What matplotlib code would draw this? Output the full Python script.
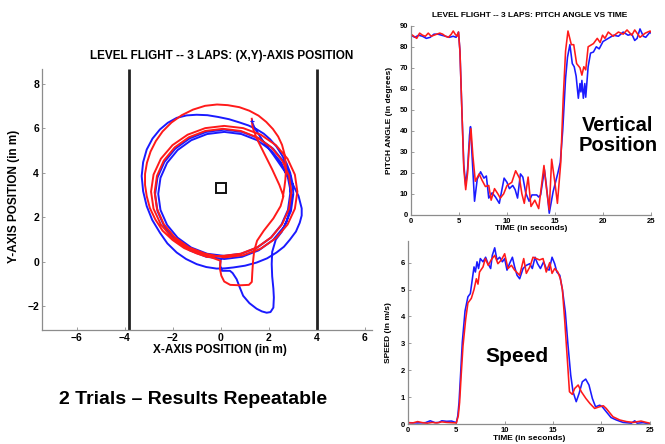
import matplotlib
matplotlib.use("Agg")
import matplotlib.pyplot as plt

plt.rcParams['font.family'] = ['Liberation Sans', 'DejaVu Sans']
plt.rcParams['font.weight'] = 'bold'

RED = '#ff1a1a'
BLUE = '#1a1aff'

# ---------------- trajectory data (X, Y in m) ----------------
red_x = [1.30, 1.33, 1.50, 1.80, 2.15, 2.45, 2.62, 2.50, 2.20, 1.80, 1.52, 1.40, 1.35, 1.32, 1.30,
         1.18, 0.80, 0.40, 0.15, 0.03, -0.03, 0.00,
         -0.64, -1.375, -2.006, -2.491, -2.796, -2.90, -2.796, -2.491, -2.006, -1.375, -0.64, 0.15,
         0.94, 1.675, 2.306, 2.791, 3.096, 3.20, 3.096, 2.791, 2.306, 1.675, 0.94, 0.15,
         -0.638, -1.325, -1.915, -2.368, -2.653, -2.75, -2.653, -2.368, -1.915, -1.325, -0.638, 0.10,
         0.838, 1.525, 2.115, 2.568, 2.853, 2.95, 2.853, 2.568, 2.115, 1.525, 0.838, 0.10,
         -0.55, -1.00, -1.52, -2.00, -2.42, -2.72, -2.95, -3.08, -3.15, -3.15, -3.07, -2.92, -2.70,
         -2.42, -2.05, -1.62, -1.15, -0.65, -0.15, 0.30, 0.78, 1.20, 1.58, 1.90, 2.18, 2.40, 2.56,
         2.66, 2.71, 2.72, 2.70, 2.66, 2.60]
red_y = [6.42, 6.05, 5.55, 4.90, 4.15, 3.45, 2.95, 2.50, 1.95, 1.40, 0.95, 0.50, 0.00, -0.50, -0.90,
         -1.03, -1.05, -1.03, -0.88, -0.62, -0.30, 0.05,
         0.30, 0.595, 1.064, 1.675, 2.386, 3.15, 3.914, 4.625, 5.236, 5.705, 6.00, 6.10,
         6.00, 5.705, 5.236, 4.625, 3.914, 3.15, 2.386, 1.675, 1.064, 0.595, 0.30, 0.20,
         0.367, 0.652, 1.105, 1.695, 2.382, 3.12, 3.858, 4.545, 5.135, 5.588, 5.873, 5.97,
         5.873, 5.588, 5.135, 4.545, 3.858, 3.12, 2.382, 1.695, 1.105, 0.652, 0.367, 0.27,
         0.22, 0.38, 0.62, 0.98, 1.40, 1.90, 2.42, 2.95, 3.45, 3.95, 4.45, 4.95, 5.42,
         5.85, 6.25, 6.58, 6.83, 7.00, 7.06, 7.03, 6.94, 6.78, 6.56, 6.28, 5.96, 5.62, 5.25,
         4.85, 4.45, 4.05, 3.70, 3.35, 2.95]

blue_x = [1.30, 1.42, 1.75, 2.20, 2.65, 3.00, 3.25, 3.38, 3.38, 3.30, 3.14, 2.89, 2.64, 2.33, 1.94,
          1.50, 1.02, 0.53, 0.18, -0.17, -0.60, -1.00, -1.44, -1.83, -2.22, -2.53, -2.85, -3.08, -3.23,
          -3.29, -3.23, -3.08, -2.84, -2.53, -2.20, -1.83, -1.42, -1.00, -0.55, -0.10, 0.35, 0.80, 1.16,
          1.50, 1.80, 2.06, 2.33, 2.55, 2.75, 2.90, 3.00, 3.03,
          2.932, 2.644, 2.186, 1.59, 0.896, 0.15, -0.596, -1.29, -1.886, -2.344, -2.632, -2.73,
          -2.632, -2.344, -1.886, -1.29, -0.596, 0.15, 0.896, 1.59, 2.186, 2.644, 2.932,
          2.90, 2.807, 2.532, 2.094, 1.525, 0.862, 0.15, -0.562, -1.225, -1.794, -2.232, -2.507, -2.60,
          -2.507, -2.232, -1.794, -1.225, -0.562, 0.15, 0.862, 1.525, 2.094, 2.532, 2.807,
          2.95, 2.90, 2.75, 2.55, 2.30,
          2.15, 2.13, 2.15, 2.20, 2.22, 2.20, 2.08, 1.92, 1.72, 1.50, 1.20, 0.94, 0.80, 0.67, 0.50, 0.39,
          0.05, -0.02, 0.00]
blue_y = [6.30, 6.00, 5.45, 4.80, 4.10, 3.50, 2.95, 2.40, 2.08, 1.76, 1.36, 1.00, 0.68, 0.42, 0.16,
          -0.03, -0.17, -0.25, -0.29, -0.30, -0.23, -0.10, 0.13, 0.42, 0.83, 1.31, 1.88, 2.50, 3.17,
          3.85, 4.47, 5.04, 5.53, 5.94, 6.24, 6.46, 6.57, 6.60, 6.58, 6.50, 6.40, 6.25, 6.12,
          5.95, 5.75, 5.50, 5.17, 4.80, 4.42, 4.00, 3.52, 3.03,
          2.279, 1.58, 0.98, 0.519, 0.229, 0.13, 0.229, 0.519, 0.98, 1.58, 2.279, 3.03,
          3.781, 4.48, 5.08, 5.541, 5.831, 5.93, 5.831, 5.541, 5.08, 4.48, 3.781,
          3.05, 2.33, 1.66, 1.085, 0.643, 0.365, 0.27, 0.365, 0.643, 1.085, 1.66, 2.33, 3.05,
          3.77, 4.44, 5.015, 5.457, 5.735, 5.83, 5.735, 5.457, 5.015, 4.44, 3.77,
          3.00, 2.40, 1.80, 1.35, 1.00,
          0.45, -0.10, -0.65, -1.20, -1.60, -2.05, -2.25, -2.28, -2.22, -2.10, -1.85, -1.52, -1.15, -0.78, -0.50, -0.40,
          -0.40, -0.15, 0.10]

wall_x = [-3.8, 4.0]
target_xy = (0.0, 3.3)

# ---------------- pitch angle data ----------------
pitch_red_t = [0, 0.3, 0.6, 0.9, 1.2, 1.5, 1.8, 2.1, 2.4, 2.7, 3.0, 3.3, 3.6, 3.9, 4.2, 4.4, 4.6, 4.8, 4.95,
               5.1, 5.3, 5.5, 5.7, 5.9, 6.05, 6.25, 6.45, 6.7, 7.1, 7.4, 7.75, 8.1, 8.35, 8.7, 9.05, 9.3, 9.65,
               10.0, 10.5, 10.9, 11.3, 11.55, 11.8, 12.2, 12.5, 12.9, 13.3, 13.85, 14.1, 14.4, 14.65, 15.0,
               15.25, 15.6, 15.85, 16.1, 16.35, 16.7, 16.95, 17.25, 17.6, 17.8, 18.0, 18.2, 18.45, 19.0, 19.4,
               19.7, 19.95, 20.2, 20.55, 21.05, 21.6, 22.1, 22.5, 23.0, 23.3, 23.85, 24.4, 24.9, 25.0]
pitch_red = [86, 85, 84, 86.5, 85.5, 85, 86.5, 85, 85.5, 86, 86.5, 86, 85, 84.5, 86, 87.5, 86, 85, 87,
             78, 50, 22, 12, 20, 32, 41, 28, 16, 19.5, 16.5, 13.5, 14, 7, 12.5, 10, 8, 10,
             14, 15.5, 21, 17.5, 10, 5.5, 18, 4, 7, 3, 23.5, 13, 2.5, 26.5, 15,
             5.5, 25, 55, 78, 87.5, 81, 81, 72, 70, 66.5, 70.5, 69, 80, 81.5, 84,
             82, 85.5, 84, 87, 85, 87, 86, 88, 85.5, 88, 84.5, 86.5, 87.5, 87]

pitch_blue_t = [0, 0.4, 0.8, 1.2, 1.6, 2.0, 2.4, 2.8, 3.2, 3.6, 4.0, 4.4, 4.7, 4.95,
                5.1, 5.3, 5.5, 5.7, 5.9, 6.1, 6.2, 6.4, 6.62, 6.9, 7.25, 7.6, 7.85, 8.1, 8.45, 8.8, 9.2,
                9.7, 10.0, 10.25, 10.6, 10.85, 11.1, 11.4, 11.65, 11.95, 12.3, 12.6, 13.1, 13.3, 13.5, 13.9,
                14.1, 14.4, 14.8, 15.3, 15.55, 15.8, 16.1, 16.3, 16.55, 16.8, 17.0, 17.2, 17.33, 17.43, 17.6,
                17.7, 17.8, 17.95, 18.1, 18.2, 18.45, 18.7, 19.0, 19.3, 19.6, 20.0, 20.55, 21.1, 21.6, 22.1,
                22.6, 23.0, 23.3, 23.55, 23.85, 24.2, 24.45, 24.9, 25.0]
pitch_blue = [85.5, 84.5, 85.5, 85, 84, 84.5, 86, 86, 85.5, 85, 84.5, 85, 84.5, 87,
              78, 50, 24, 14, 22, 38, 42, 25, 6.5, 17, 20.5, 17.5, 18.5, 8, 10.5, 8.5, 5.5,
              17.5, 15.5, 12.5, 14, 12, 8, 19.5, 18, 10.5, 6.5, 9.5, 9.5, 8.5, 9.5, 21.5,
              14, 0.8, 11, 20, 25, 40, 65, 75, 81, 72, 70.5, 66, 60, 55.5, 62.5,
              58.5, 64, 55.5, 62.5, 56, 70.5, 77, 77.5, 80, 79, 82.5, 84, 85.5, 85, 87,
              85.5, 86, 83, 84, 88.5, 85, 84.5, 87, 86.5]

# ---------------- speed data ----------------
speed_red_t = [0, 0.5, 1.0, 1.5, 2.0, 2.5, 3.0, 3.5, 4.0, 4.5, 5.0, 5.2, 5.34, 5.5, 5.69, 5.97, 6.2,
               6.55, 6.83, 7.07, 7.24, 7.4, 7.76, 8.0, 8.3, 8.6, 8.97, 9.3, 9.66, 10.0, 10.34, 10.7,
               11.03, 11.55, 11.97, 12.24, 12.6, 12.93, 13.28, 13.6, 13.97, 14.3, 14.66, 14.9, 15.17,
               15.5, 15.76, 15.97, 16.2, 16.5, 16.7, 17.0, 17.24, 17.6, 17.93, 18.4, 18.8, 19.3, 19.8,
               20.2, 20.5, 21.2, 21.9, 22.6, 23.3, 24.1, 24.65, 25.0]
speed_red = [0.05, 0.04, 0.09, 0.05, 0.03, 0.06, 0.04, 0.08, 0.06, 0.05, 0.04, 0.3, 0.8, 1.8, 2.9, 3.9, 4.5,
             4.67, 5.0, 5.4, 5.2, 5.65, 5.84, 6.15, 5.9, 6.1, 6.27, 5.96, 6.1, 6.33, 5.78, 5.9,
             5.72, 5.53, 6.15, 5.6, 5.84, 6.2, 6.15, 6.1, 6.15, 5.65, 6.0, 5.6, 5.78,
             5.65, 5.4, 5.0, 3.9, 2.3, 1.2, 1.1, 1.32, 1.45, 1.2, 0.95, 0.77, 0.58, 0.64,
             0.68, 0.58, 0.27, 0.15, 0.09, 0.06, 0.11, 0.06, 0.03]

speed_blue_t = [0, 1.0, 1.8, 2.3, 2.8, 3.2, 3.5, 4.0, 4.5, 5.0, 5.15, 5.28, 5.45, 5.62, 5.9, 6.2, 6.45,
                6.66, 6.83, 6.97, 7.14, 7.3, 7.48, 7.76, 8.03, 8.28, 8.55, 8.72, 8.97, 9.2, 9.48, 9.76,
                10.0, 10.24, 10.5, 10.8, 11.03, 11.28, 11.55, 11.9, 12.24, 12.6, 12.86, 13.14, 13.4, 13.7,
                14.03, 14.3, 14.6, 14.9, 15.17, 15.4, 15.7, 15.97, 16.27, 16.55, 16.83, 17.07, 17.4, 17.7,
                18.03, 18.38, 18.72, 19.07, 19.4, 19.83, 20.1, 20.5, 21.0, 21.55, 22.24, 23.1, 23.45, 23.7,
                24.3, 25.0]
speed_blue = [0.05, 0.04, 0.05, 0.12, 0.05, 0.06, 0.12, 0.1, 0.11, 0.05, 0.3, 0.8, 1.9, 3.05, 4.2, 4.73, 4.85,
              5.4, 5.84, 5.65, 6.03, 5.78, 6.15, 6.03, 6.2, 5.96, 5.78, 6.27, 6.55, 6.1, 6.2, 6.03,
              6.15, 5.72, 5.96, 6.2, 5.84, 5.53, 5.4, 5.78, 5.9, 5.96, 5.78, 6.2, 5.96, 5.78,
              6.03, 5.78, 5.72, 6.2, 5.96, 5.65, 5.53, 5.0, 4.17, 2.93, 1.82, 1.2, 0.83, 1.14,
              1.57, 1.67, 1.45, 0.95, 0.64, 0.7, 0.64, 0.46, 0.24, 0.15, 0.06, 0.03, 0.12, 0.03,
              0.05, 0.01]

time_ticks = [0, 5, 10, 15, 20, 25]
pitch_ticks = [0, 10, 20, 30, 40, 50, 60, 70, 80, 90]
speed_ticks = [0, 1, 2, 3, 4, 5, 6]
pos_xticks = [-6, -4, -2, 0, 2, 4, 6]
pos_yticks = [-2, 0, 2, 4, 6, 8]

SPINE = '#8c8c8c'


def style(ax, fs):
    for s in ('top', 'right'):
        ax.spines[s].set_visible(False)
    for s in ('left', 'bottom'):
        ax.spines[s].set_color(SPINE)
        ax.spines[s].set_linewidth(0.9)
    ax.tick_params(direction='in', length=2.5, width=0.6, color=SPINE,
                   labelsize=fs, pad=2)
    for lab in ax.get_xticklabels() + ax.get_yticklabels():
        lab.set_fontweight('bold')


fig = plt.figure(figsize=(6.65, 4.44), dpi=100)

# ---------- left: XY position ----------
ax1 = fig.add_axes([0.063, 0.257, 0.496, 0.588])
ax1.plot(blue_x, blue_y, color=BLUE, lw=1.4, solid_joinstyle='round')
ax1.plot(red_x, red_y, color=RED, lw=1.4, solid_joinstyle='round')
ax1.plot([blue_x[0]], [blue_y[0]], marker='+', color=BLUE, ms=3, mew=0.8)
for wx in wall_x:
    ax1.plot([wx, wx], [-3.05, 8.66], color='#222222', lw=2.0, solid_capstyle='butt')
ax1.plot(target_xy[0], target_xy[1], marker='s', ms=7.5, mfc='white', mec='#111111', mew=1.4)
ax1.set_xlim(-7.45, 6.3)
ax1.set_ylim(-3.05, 8.66)
ax1.set_xticks(pos_xticks)
ax1.set_yticks(pos_yticks)
style(ax1, 7.5)
ax1.set_xlabel('X-AXIS POSITION (in m)', fontsize=8.5, fontweight='bold')
ax1.xaxis.set_label_coords(0.54, -0.055)
ax1.set_ylabel('Y-AXIS POSITION (in m)', fontsize=8.5, fontweight='bold')
ax1.yaxis.set_label_coords(-0.065, 0.51)
fig.text(0.334, 0.874, 'LEVEL FLIGHT -- 3 LAPS: (X,Y)-AXIS POSITION', ha='center', va='center',
         fontsize=8.5, fontweight='bold')

# ---------- right top: pitch ----------
ax2 = fig.add_axes([0.618, 0.516, 0.361, 0.426])
ax2.plot(pitch_blue_t, pitch_blue, color=BLUE, lw=1.15)
ax2.plot(pitch_red_t, pitch_red, color=RED, lw=1.15)
ax2.set_xlim(0, 25)
ax2.set_ylim(0, 90)
ax2.set_xticks(time_ticks)
ax2.set_yticks(pitch_ticks)
style(ax2, 5.5)
ax2.set_xlabel('TIME (in seconds)', fontsize=6, fontweight='bold', labelpad=0)
ax2.xaxis.set_label_coords(0.5, -0.055)
ax2.set_ylabel('PITCH ANGLE (in degrees)', fontsize=6, fontweight='bold')
ax2.yaxis.set_label_coords(-0.075, 0.5)
fig.text(0.797, 0.965, 'LEVEL FLIGHT -- 3 LAPS: PITCH ANGLE VS TIME', ha='center', va='center',
         fontsize=6, fontweight='bold')
fig.text(0.929, 0.694, 'Vertical\nPosition', ha='center', va='center', fontsize=14.5,
         fontweight='bold', linespacing=1.05)

# ---------- right bottom: speed ----------
ax3 = fig.add_axes([0.6135, 0.045, 0.3635, 0.412])
ax3.plot(speed_blue_t, speed_blue, color=BLUE, lw=1.15)
ax3.plot(speed_red_t, speed_red, color=RED, lw=1.15)
ax3.set_xlim(0, 25)
ax3.set_ylim(0, 6.8)
ax3.set_xticks(time_ticks)
ax3.set_yticks(speed_ticks)
style(ax3, 5.5)
ax3.set_xlabel('TIME (in seconds)', fontsize=6, fontweight='bold')
ax3.xaxis.set_label_coords(0.5, -0.06)
ax3.set_ylabel('SPEED (in m/s)', fontsize=6, fontweight='bold')
ax3.yaxis.set_label_coords(-0.065, 0.5)
fig.text(0.777, 0.198, 'Speed', ha='center', va='center', fontsize=15, fontweight='bold')

fig.text(0.29, 0.101, '2 Trials \u2013 Results Repeatable', ha='center', va='center',
         fontsize=14, fontweight='bold')

fig.savefig('out.png', dpi=100)
